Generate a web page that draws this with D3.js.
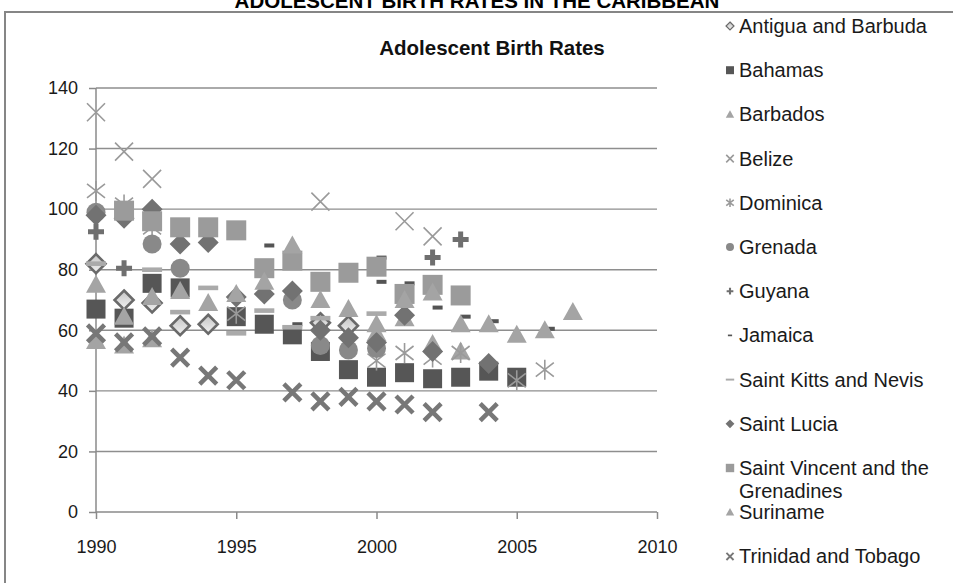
<!DOCTYPE html>
<html>
<head>
<meta charset="utf-8">
<script src="https://cdn.jsdelivr.net/npm/d3@7"></script>
<style>
  html, body { margin: 0; padding: 0; background: #fff; overflow: hidden; }
  text { font-family: "Liberation Sans", Arial, sans-serif; fill: #1a1a1a; }
</style>
</head>
<body>
<svg id="chart" width="953" height="583"></svg>
<script>
// Adolescent birth rates (births per 1,000 women aged 15-19), [year, rate]
const antiguaAndBarbuda = [[1990, 82], [1991, 70], [1992, 69], [1993, 61.5], [1994, 62], [1998, 62.5], [1999, 61.5]];
const bahamas = [[1990, 67], [1991, 64], [1992, 75.5], [1993, 74], [1995, 64.5], [1996, 62], [1997, 58.5], [1998, 53],
  [1999, 47], [2000, 44.5], [2001, 46], [2002, 44], [2003, 44.5], [2004, 46.5], [2005, 44.5]];
const barbados = [[1990, 56.5], [1991, 55], [1992, 57], [2000, 59], [2001, 64], [2002, 55.5], [2003, 53]];
const belize = [[1990, 132], [1991, 119], [1992, 110], [1998, 102.5], [2001, 96], [2002, 91]];
const dominica = [[1990, 106], [1991, 101.5], [1992, 94], [1995, 65.5], [2000, 50], [2001, 52.5], [2002, 51],
  [2003, 52.5], [2005, 43.5], [2006, 47]];
const grenada = [[1990, 99], [1992, 88.5], [1993, 80.5], [1997, 70], [1998, 55], [1999, 53.5], [2000, 54]];
const guyana = [[1990, 92.5], [1991, 80.5], [2002, 84], [2003, 90]];
const jamaica = [[1996, 88], [1997, 62], [2000, 84], [2000, 76], [2001, 75.5], [2002, 67.5], [2003, 64.5], [2004, 63], [2006, 60.5]];
const saintKittsAndNevis = [[1990, 82], [1992, 80], [1993, 66], [1994, 74], [1995, 59], [1996, 66.5], [1997, 61], [1998, 64], [2000, 65.5]];
const saintLucia = [[1990, 98], [1991, 97], [1992, 100], [1993, 88.5], [1994, 89], [1995, 71], [1996, 72], [1997, 73],
  [1998, 60], [1999, 57.5], [2000, 56], [2001, 65], [2002, 53], [2004, 49]];
const saintVincent = [[1991, 99.5], [1992, 96], [1993, 94], [1994, 94], [1995, 93], [1996, 80.5], [1997, 83], [1998, 76],
  [1999, 79], [2000, 81], [2001, 72], [2002, 75], [2003, 71.5]];
const suriname = [[1990, 75], [1991, 64.5], [1992, 71], [1993, 73], [1994, 69], [1995, 72], [1996, 76], [1997, 88],
  [1998, 70], [1999, 67], [2000, 62], [2001, 70], [2002, 72.5], [2003, 62], [2004, 62], [2005, 58.5], [2006, 60], [2007, 66]];
const trinidadAndTobago = [[1990, 59], [1991, 56], [1992, 58], [1993, 51], [1994, 45], [1995, 43.5], [1997, 39.5],
  [1998, 36.5], [1999, 38], [2000, 36.5], [2001, 35.5], [2002, 33], [2004, 33]];

const xTicks = [1990, 1995, 2000, 2005, 2010];
const yTicks = [0, 20, 40, 60, 80, 100, 120, 140];

const pageTitle = "ADOLESCENT BIRTH RATES IN THE CARIBBEAN";
const chartTitle = "Adolescent Birth Rates";

// series table: legend label lines, data and marker style
const series = [
  { label: ["Antigua and Barbuda"], data: antiguaAndBarbuda, marker: "diamondOpen" },
  { label: ["Bahamas"], data: bahamas, marker: "squareDark" },
  { label: ["Barbados"], data: barbados, marker: "triangle" },
  { label: ["Belize"], data: belize, marker: "cross" },
  { label: ["Dominica"], data: dominica, marker: "star" },
  { label: ["Grenada"], data: grenada, marker: "circle" },
  { label: ["Guyana"], data: guyana, marker: "plus" },
  { label: ["Jamaica"], data: jamaica, marker: "shortDash" },
  { label: ["Saint Kitts and Nevis"], data: saintKittsAndNevis, marker: "longDash" },
  { label: ["Saint Lucia"], data: saintLucia, marker: "diamondFilled" },
  { label: ["Saint Vincent and the", "Grenadines"], data: saintVincent, marker: "squareLight" },
  { label: ["Suriname"], data: suriname, marker: "triangle" },
  { label: ["Trinidad and Tobago"], data: trinidadAndTobago, marker: "crossBold" }
];

const svg = d3.select("#chart");

const defs = svg.append("defs");
const grad = defs.append("linearGradient").attr("id", "openDiamondFill")
  .attr("x1", 0).attr("y1", 0).attr("x2", 0).attr("y2", 1);
grad.append("stop").attr("offset", "0%").attr("stop-color", "#c4c4c4");
grad.append("stop").attr("offset", "100%").attr("stop-color", "#f2f2f2");

// outer frame of the chart object
svg.append("rect")
  .attr("x", 5).attr("y", 12).attr("width", 1000).attr("height", 1000)
  .attr("fill", "none").attr("stroke", "#868686").attr("stroke-width", 2);

svg.append("text")
  .attr("x", 477).attr("y", 7.5)
  .attr("text-anchor", "middle")
  .style("font-weight", "bold").style("font-size", "20.5px").style("fill", "#000")
  .text(pageTitle);

svg.append("text")
  .attr("x", 492).attr("y", 55)
  .attr("text-anchor", "middle")
  .style("font-weight", "bold").style("font-size", "20.5px").style("fill", "#111")
  .text(chartTitle);

const x = d3.scaleLinear().domain([1990, 2010]).range([96, 657]);
const y = d3.scaleLinear().domain([0, 140]).range([512, 88]);

// horizontal gridlines
svg.append("g")
  .selectAll("line")
  .data(yTicks.filter(t => t > 0))
  .join("line")
  .attr("x1", x(1990)).attr("x2", x(2010))
  .attr("y1", d => y(d)).attr("y2", d => y(d))
  .attr("stroke", "#8e8e8e").attr("stroke-width", 1.4);

const xAxis = svg.append("g")
  .attr("transform", `translate(0,${y(0)})`)
  .call(d3.axisBottom(x).tickValues(xTicks).tickFormat(d3.format("d")).tickSize(7).tickPadding(21));
const yAxis = svg.append("g")
  .attr("transform", `translate(${x(1990)},0)`)
  .call(d3.axisLeft(y).tickValues(yTicks).tickSize(7).tickPadding(11));

[xAxis, yAxis].forEach(ax => {
  ax.select(".domain").attr("stroke", "#8a8a8a").attr("stroke-width", 1.5);
  ax.selectAll(".tick line").attr("stroke", "#8a8a8a").attr("stroke-width", 1.5);
  ax.selectAll(".tick text")
    .style("font-family", "'Liberation Sans', Arial, sans-serif")
    .style("font-size", "18px").style("fill", "#1a1a1a");
});
xAxis.select(".domain").attr("d", `M${x(1990)},0H${x(2010)}`);
yAxis.select(".domain").attr("d", `M0,${y(0)}V${y(140)}`);

// marker drawing; s scales the marker (1 in the plot, smaller in the legend)
function drawMarker(g, type, s) {
  const k = v => v * s;
  switch (type) {
    case "diamondOpen":
      g.append("path").attr("d", `M0,${-k(9.5)}L${k(9.5)},0L0,${k(9.5)}L${-k(9.5)},0Z`)
        .attr("fill", "url(#openDiamondFill)").attr("stroke", "#6a6a6a").attr("stroke-width", Math.max(1.2, k(2.6)));
      break;
    case "diamondFilled":
      g.append("path").attr("d", `M0,${-k(10.5)}L${k(10.5)},0L0,${k(10.5)}L${-k(10.5)},0Z`)
        .attr("fill", "#727272");
      break;
    case "squareDark":
      g.append("rect").attr("x", -k(9.5)).attr("y", -k(9.5)).attr("width", k(19)).attr("height", k(19))
        .attr("fill", "#565656");
      break;
    case "squareLight":
      g.append("rect").attr("x", -k(10)).attr("y", -k(10)).attr("width", k(20)).attr("height", k(20))
        .attr("fill", "#9b9b9b");
      break;
    case "triangle":
      g.append("path").attr("d", `M0,${-k(10)}L${k(10)},${k(8)}L${-k(10)},${k(8)}Z`)
        .attr("fill", "#a4a4a4");
      break;
    case "circle":
      g.append("circle").attr("r", k(9.5)).attr("fill", "#898989");
      break;
    case "cross":
      g.append("path").attr("d", `M${-k(9)},${-k(9)}L${k(9)},${k(9)}M${k(9)},${-k(9)}L${-k(9)},${k(9)}`)
        .attr("stroke", "#9a9a9a").attr("stroke-width", 1.6).attr("fill", "none");
      break;
    case "star":
      g.append("path").attr("d", `M${-k(9)},${-k(7)}L${k(9)},${k(7)}M${k(9)},${-k(7)}L${-k(9)},${k(7)}M0,${-k(10)}V${k(10)}`)
        .attr("stroke", "#9a9a9a").attr("stroke-width", 1.6).attr("fill", "none");
      break;
    case "plus":
      g.append("path").attr("d", `M${-k(8)},0H${k(8)}M0,${-k(8)}V${k(8)}`)
        .attr("stroke", "#6f6f6f").attr("stroke-width", Math.max(1.8, k(5))).attr("fill", "none");
      break;
    case "shortDash":
      g.append("rect").attr("x", s === 1 ? 0 : -k(5)).attr("y", -k(2)).attr("width", k(10)).attr("height", k(4))
        .attr("fill", "#545454");
      break;
    case "longDash":
      g.append("rect").attr("x", -k(10)).attr("y", -k(2.3)).attr("width", k(20)).attr("height", k(4.6))
        .attr("fill", "#aaaaaa");
      break;
    case "crossBold":
      g.append("path").attr("d", `M${-k(8.5)},${-k(8.5)}L${k(8.5)},${k(8.5)}M${k(8.5)},${-k(8.5)}L${-k(8.5)},${k(8.5)}`)
        .attr("stroke", "#777777").attr("stroke-width", Math.max(1.6, k(4.5))).attr("fill", "none");
      break;
  }
}

// plotted points, drawn in series order
const plot = svg.append("g");
series.forEach(sr => {
  plot.append("g")
    .selectAll("g")
    .data(sr.data)
    .join("g")
    .attr("transform", d => `translate(${x(d[0])},${y(d[1])})`)
    .each(function () { drawMarker(d3.select(this), sr.marker, 1); });
});

// legend
const legendRowY = d3.scaleLinear().domain([0, 1]).range([26, 70.2]);
const legend = svg.append("g");
series.forEach((sr, i) => {
  const cy = legendRowY(i);
  const row = legend.append("g").attr("transform", `translate(730,${cy})`);
  drawMarker(row, sr.marker, 0.42);
  const t = legend.append("text")
    .attr("x", 739).attr("y", cy)
    .style("font-size", "20px").style("fill", "#1a1a1a");
  sr.label.forEach((line, j) => {
    t.append("tspan").attr("x", 739).attr("dy", j === 0 ? "0.35em" : "1.15em").text(line);
  });
});
</script>
</body>
</html>
